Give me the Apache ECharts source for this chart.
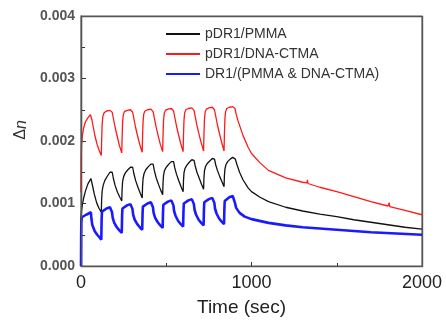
<!DOCTYPE html>
<html>
<head>
<meta charset="utf-8">
<script src="https://cdn.jsdelivr.net/npm/echarts@6/dist/echarts.min.js"></script>
<style>html,body{margin:0;padding:0;background:#fff}#c{width:446px;height:322px}</style>
</head>
<body>
<div id="c"></div>
<script>
var seriesNames = ['pDR1/PMMA', 'pDR1/DNA-CTMA', 'DR1/(PMMA & DNA-CTMA)'];
var yTickLabels = ['0.000', '0.001', '0.002', '0.003', '0.004'];
var xTickLabels = ['0', '1000', '2000'];

var blackData = [
[0,0.00055],[1,0.00075],[3,0.00088],[8,0.00098],[15,0.00108],[25,0.00119],[40,0.00131],[58,0.0014],[62,0.00138],[68,0.00128],[78,0.00115],[92,0.00101],[106,0.00092],[119,0.00086],
[121,0.00106],[124,0.0012],[130,0.00129],[140,0.00137],[155,0.00144],[170,0.0015],[180,0.00153],[183,0.0015],[190,0.0014],[200,0.00129],[214,0.00118],[228,0.0011],[239,0.00104],
[241,0.00122],[244,0.00135],[250,0.00143],[260,0.00149],[275,0.00154],[290,0.00158],[300,0.00161],[303,0.00158],[310,0.00148],[320,0.00137],[334,0.00126],[348,0.00116],[359,0.00109],
[361,0.00127],[364,0.0014],[370,0.00148],[380,0.00154],[395,0.00159],[410,0.00163],[420,0.00166],[423,0.00163],[430,0.00153],[440,0.00142],[454,0.00131],[468,0.00121],[479,0.00114],
[481,0.00132],[484,0.00145],[490,0.00153],[500,0.00158],[515,0.00163],[530,0.00167],[540,0.0017],[543,0.00167],[550,0.00157],[560,0.00147],[574,0.00136],[588,0.00126],[599,0.00119],
[601,0.00136],[604,0.00149],[610,0.00156],[620,0.00161],[635,0.00166],[650,0.0017],[660,0.00172],[663,0.00169],[670,0.0016],[680,0.0015],[694,0.0014],[708,0.0013],[719,0.00123],
[721,0.0014],[724,0.00152],[730,0.00159],[740,0.00164],[755,0.00168],[770,0.00172],[780,0.00174],[783,0.00171],[790,0.00162],[800,0.00153],[814,0.00143],[828,0.00134],[839,0.00127],
[841,0.00144],[844,0.00155],[850,0.00162],[860,0.00167],[875,0.00171],[890,0.00174],[900,0.00176],[905,0.00171],[915,0.00162],[930,0.0015],[950,0.00138],[980,0.00125],[1000,0.00119],
[1050,0.0011],[1100,0.00103],[1200,0.00094],[1300,0.00088],[1400,0.00083],[1500,0.00079],[1600,0.00074],[1700,0.0007],[1800,0.00066],[1900,0.00062],[2000,0.00059]
];

var redData = [
[0,0.00118],[1,0.0017],[3,0.00192],[8,0.00208],[15,0.0022],[25,0.0023],[40,0.00237],[55,0.00242],[60,0.00241],[64,0.00234],[72,0.00222],[82,0.00208],[95,0.00194],[108,0.00184],[119,0.00177],
[121,0.002],[124,0.00226],[128,0.00239],[135,0.00245],[150,0.00248],[170,0.00249],[180,0.0025],[183,0.00246],[190,0.00236],[200,0.00222],[212,0.00208],[225,0.00193],[239,0.00181],
[241,0.00205],[244,0.0023],[248,0.00242],[255,0.00247],[270,0.00249],[290,0.0025],[300,0.0025],[303,0.00246],[310,0.00236],[320,0.00222],[332,0.00208],[345,0.00194],[359,0.00182],
[361,0.00206],[364,0.00231],[368,0.00243],[375,0.00248],[390,0.0025],[410,0.00251],[420,0.00251],[423,0.00247],[430,0.00237],[440,0.00223],[452,0.00209],[465,0.00195],[479,0.00183],
[481,0.00207],[484,0.00232],[488,0.00244],[495,0.00249],[510,0.00251],[530,0.00252],[540,0.00252],[543,0.00248],[550,0.00238],[560,0.00224],[572,0.0021],[585,0.00196],[599,0.00183],
[601,0.00208],[604,0.00233],[608,0.00245],[615,0.0025],[630,0.00252],[650,0.00253],[660,0.00253],[663,0.00249],[670,0.00239],[680,0.00225],[692,0.00211],[705,0.00197],[719,0.00184],
[721,0.00209],[724,0.00234],[728,0.00246],[735,0.00251],[750,0.00253],[770,0.00254],[780,0.00254],[783,0.0025],[790,0.0024],[800,0.00226],[812,0.00212],[825,0.00198],[839,0.00184],
[841,0.0021],[844,0.00235],[848,0.00247],[855,0.00252],[870,0.00254],[890,0.00255],[900,0.00255],[903,0.00252],[910,0.00243],[920,0.00233],[930,0.00225],[950,0.00209],[980,0.0019],[1000,0.0018],
[1050,0.00165],[1100,0.00153],[1200,0.00141],[1300,0.00134],[1325,0.00133],[1328,0.00138],[1331,0.00132],[1400,0.00126],[1500,0.00119],[1600,0.00111],[1700,0.00103],[1800,0.00096],
[1806,0.00095],[1808,0.00101],[1811,0.00095],[1900,0.00089],[2000,0.00082]
];

var blueData = [
[0,0],[1,0.0005],[2,0.0007],[5,0.00078],[15,0.0008],[30,0.00082],[45,0.00084],[58,0.00086],[61,0.00076],[66,0.00066],[80,0.00056],[95,0.0005],[108,0.00046],[119,0.00042],
[121,0.00075],[123,0.00087],[130,0.0009],[150,0.00092],[170,0.00094],[180,0.00095],[182,0.00086],[186,0.00077],[195,0.00069],[210,0.00062],[225,0.00057],[239,0.00053],
[241,0.0008],[243,0.00092],[250,0.00095],[270,0.00097],[290,0.00099],[300,0.001],[302,0.00091],[306,0.00082],[315,0.00074],[330,0.00067],[345,0.00062],[359,0.00058],
[361,0.00083],[363,0.00095],[370,0.00098],[390,0.001],[410,0.00102],[420,0.00103],[422,0.00094],[426,0.00085],[435,0.00077],[450,0.0007],[465,0.00065],[479,0.00061],
[481,0.00086],[483,0.00098],[490,0.00101],[510,0.00103],[530,0.00105],[540,0.00106],[542,0.00097],[546,0.00088],[555,0.0008],[570,0.00072],[585,0.00067],[599,0.00063],
[601,0.00088],[603,0.001],[610,0.00103],[630,0.00105],[650,0.00107],[660,0.00108],[662,0.00099],[666,0.0009],[675,0.00082],[690,0.00074],[705,0.00069],[719,0.00065],
[721,0.0009],[723,0.00102],[730,0.00105],[750,0.00107],[770,0.00109],[780,0.0011],[782,0.00101],[786,0.00092],[795,0.00084],[810,0.00076],[825,0.00071],[839,0.00067],
[841,0.00092],[843,0.00104],[850,0.00107],[870,0.0011],[890,0.00112],[900,0.00113],[903,0.00101],[910,0.00093],[930,0.00085],[960,0.00079],[1000,0.00075],
[1100,0.00069],[1200,0.00065],[1300,0.00062],[1500,0.00058],[1700,0.00054],[1850,0.00052],[2000,0.0005]
];

var FONT = '"Liberation Sans", Arial, sans-serif';
var AX = '#333';
var GRID = {left: 81, right: 24, top: 16, bottom: 56};
var chart = echarts.init(document.getElementById('c'), null, {renderer: 'canvas', width: 446, height: 322});
chart.setOption({
  animation: false,
  backgroundColor: '#fff',
  grid: {left: GRID.left, right: GRID.right, top: GRID.top, bottom: GRID.bottom,
         show: true, borderColor: '#555', borderWidth: 1.2, backgroundColor: 'rgba(0,0,0,0)'},
  legend: {
    orient: 'vertical', left: 161, top: 22, itemWidth: 34, itemHeight: 2, itemGap: 6,
    icon: 'rect',
    data: seriesNames,
    textStyle: {fontFamily: FONT, fontSize: 14, color: '#333', lineHeight: 14}
  },
  graphic: {
    elements: [{
      type: 'rect', silent: true, z: 100,
      left: GRID.left, top: GRID.top,
      shape: {x: 0, y: 0, width: 446 - GRID.left - GRID.right, height: 322 - GRID.top - GRID.bottom},
      style: {stroke: '#555', lineWidth: 1.2, fill: 'rgba(0,0,0,0)'}
    }]
  },
  xAxis: {
    type: 'value', min: 0, max: 2000, interval: 1000,
    axisLine: {show: true, onZero: false, lineStyle: {color: AX, width: 1.2}},
    axisTick: {show: true, inside: true, length: 4, lineStyle: {color: AX}},
    minorTick: {show: true, splitNumber: 2, length: 3, lineStyle: {color: AX}},
    splitLine: {show: false},
    axisLabel: {margin: 8, fontFamily: FONT, fontSize: 18, color: '#222',
      formatter: function (v) { return xTickLabels[Math.round(v / 1000)]; }},
    name: 'Time (sec)', nameLocation: 'middle', nameGap: 32,
    nameTextStyle: {fontFamily: FONT, fontSize: 19, color: '#222', padding: [0, 20, 0, 0]}
  },
  yAxis: {
    type: 'value', min: 0, max: 0.004, interval: 0.001,
    axisLine: {show: true, onZero: false, lineStyle: {color: AX, width: 1.2}},
    axisTick: {show: true, inside: true, length: 5, lineStyle: {color: AX}},
    minorTick: {show: true, splitNumber: 2, length: 4, lineStyle: {color: AX}},
    splitLine: {show: false},
    axisLabel: {margin: 6, fontFamily: FONT, fontSize: 14, fontWeight: 'bold', color: '#555',
      formatter: function (v) { return yTickLabels[Math.round(v / 0.001)]; }},
    name: '{a|Δ}{b|n}', nameLocation: 'middle', nameGap: 50, nameRotate: 90,
    nameTextStyle: {padding: [0, 0, 0, 22], rich: {
      a: {fontFamily: FONT, fontSize: 16, color: '#333'},
      b: {fontFamily: FONT, fontSize: 16, fontStyle: 'italic', color: '#333'}
    }}
  },
  series: [
    {name: seriesNames[0], type: 'line', data: blackData, showSymbol: false, symbol: 'none', z: 3,
     lineStyle: {color: '#111', width: 1.3}, itemStyle: {color: '#111'}},
    {name: seriesNames[1], type: 'line', data: redData, showSymbol: false, symbol: 'none', z: 2,
     lineStyle: {color: '#ff1a1a', width: 1.3}, itemStyle: {color: '#ff1a1a'}},
    {name: seriesNames[2], type: 'line', data: blueData, showSymbol: false, symbol: 'none', z: 4,
     lineStyle: {color: '#1a1aff', width: 2.6}, itemStyle: {color: '#1a1aff'}}
  ]
});
</script>
</body>
</html>
